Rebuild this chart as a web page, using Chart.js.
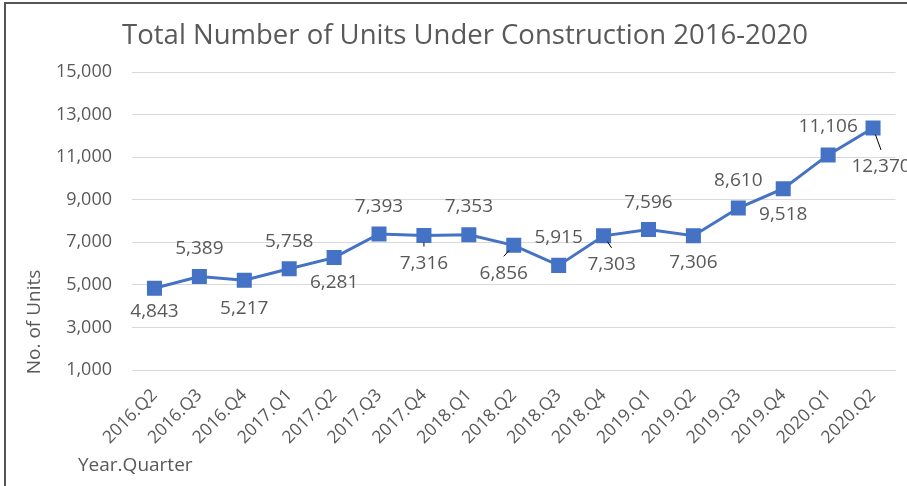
<!DOCTYPE html>
<html>
<head>
<meta charset="utf-8">
<script src="https://cdn.jsdelivr.net/npm/chart.js@4"></script>
<style>
  html, body { margin: 0; padding: 0; background: #fff; }
  #wrap { width: 907px; height: 486px; position: relative; }
</style>
</head>
<body>
<div id="wrap"><canvas id="myChart"></canvas></div>
<script>
var quarters = ['2016.Q2', '2016.Q3', '2016.Q4', '2017.Q1', '2017.Q2', '2017.Q3', '2017.Q4',
    '2018.Q1', '2018.Q2', '2018.Q3', '2018.Q4', '2019.Q1', '2019.Q2', '2019.Q3', '2019.Q4',
    '2020.Q1', '2020.Q2'];
var units = [4843, 5389, 5217, 5758, 6281, 7393, 7316, 7353, 6856, 5915, 7303, 7596, 7306,
    8610, 9518, 11106, 12370];
var yTicks = [1000, 3000, 5000, 7000, 9000, 11000, 13000, 15000];
var chartTitle = 'Total Number of Units Under Construction 2016-2020';

// where each value label sits, relative to its marker (px)
var labelOffsets = [[0, 23], [0, -28], [0, 28], [0, -27], [0, 25], [0, -27], [0, 28], [0, -28],
    [-10, 28], [0, -28], [8, 29], [0, -27], [0, 27], [0, -27], [0, 26], [0, -28], [8, 39]];
var leaders = [6, 8, 10, 16];

var grey = '#595959';
var font = '"Open Sans", "Noto Sans", sans-serif';

var frame = {
    id: 'frame',
    beforeDraw: function(chart) {
        var c = chart.ctx;
        c.save();
        c.fillStyle = '#fff';
        c.fillRect(0, 0, chart.width, chart.height);
        c.strokeStyle = '#555';
        c.lineWidth = 2;
        c.beginPath();
        c.moveTo(5, chart.height);
        c.lineTo(5, 3);
        c.lineTo(chart.width, 3);
        c.stroke();
        c.restore();
    }
};

var titles = {
    id: 'titles',
    afterDraw: function(chart) {
        var c = chart.ctx;
        c.save();
        c.fillStyle = grey;
        c.textBaseline = 'middle';
        c.textAlign = 'center';
        c.font = '27.5px ' + font;
        c.fillText(chartTitle, 465, 36);
        c.font = '19px ' + font;
        c.textAlign = 'left';
        c.fillText('Year.Quarter', 78, 466);
        c.translate(35, 322);
        c.rotate(-Math.PI / 2);
        c.textAlign = 'center';
        c.fillText('No. of Units', 0, 0);
        c.restore();
    }
};

var valueLabels = {
    id: 'valueLabels',
    afterDatasetsDraw: function(chart) {
        var c = chart.ctx;
        var pts = chart.getDatasetMeta(0).data;
        c.save();
        c.font = '19px ' + font;
        c.fillStyle = grey;
        c.textAlign = 'center';
        c.textBaseline = 'middle';
        pts.forEach(function(p, i) {
            var lx = p.x + labelOffsets[i][0];
            var ly = p.y + labelOffsets[i][1];
            if (leaders.indexOf(i) >= 0) {
                var ex = lx, ey = ly - 17;
                var dx = ex - p.x, dy = ey - p.y;
                var len = Math.sqrt(dx * dx + dy * dy);
                c.strokeStyle = '#000';
                c.lineWidth = 1;
                c.beginPath();
                c.moveTo(p.x + dx / len * 7, p.y + dy / len * 7);
                c.lineTo(ex, ey);
                c.stroke();
            }
            c.fillText(units[i].toLocaleString('en-US'), lx, ly);
        });
        c.restore();
    }
};

var ctx = document.getElementById('myChart').getContext('2d');
var myChart = new Chart(ctx, {
    type: 'line',
    data: {
        labels: quarters,
        datasets: [{
            label: 'Units under construction',
            data: units,
            borderColor: '#4472C4',
            backgroundColor: '#4472C4',
            borderWidth: 3,
            pointStyle: 'rect',
            pointRadius: 8.5,
            pointHoverRadius: 8.5,
            tension: 0
        }]
    },
    options: {
        responsive: true,
        maintainAspectRatio: false,
        animation: false,
        layout: { padding: { left: 0, right: 9, top: 72, bottom: 0 } },
        plugins: {
            legend: { display: false },
            tooltip: { enabled: false },
            title: { display: false }
        },
        scales: {
            x: {
                offset: true,
                grid: { display: false, drawTicks: false },
                border: { display: true, color: '#d9d9d9' },
                ticks: {
                    color: grey,
                    font: { family: font, size: 17.5 },
                    minRotation: 45,
                    maxRotation: 45,
                    padding: 15
                },
                afterFit: function(scale) { scale.height = 116; }
            },
            y: {
                min: 1000,
                max: 15000,
                afterBuildTicks: function(scale) {
                    scale.ticks = yTicks.map(function(v) { return { value: v }; });
                },
                grid: { color: '#d9d9d9', drawTicks: false },
                border: { display: false },
                ticks: {
                    color: grey,
                    font: { family: font, size: 18 },
                    padding: 20,
                    callback: function(v) { return v.toLocaleString('en-US'); }
                },
                afterFit: function(scale) { scale.width = 132; }
            }
        }
    },
    plugins: [frame, valueLabels, titles]
});
</script>
</body>
</html>
